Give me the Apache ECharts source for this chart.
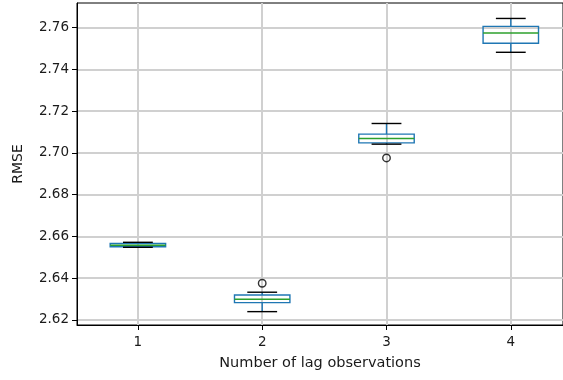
<!DOCTYPE html>
<html>
<head>
<meta charset="UTF-8">
<title>RMSE by lag</title>
<script src="https://cdn.jsdelivr.net/npm/echarts@6/dist/echarts.min.js"></script>
<style>
  html, body { margin: 0; padding: 0; background: #fff; }
  #main { width: 563px; height: 380px; }
</style>
</head>
<body>
<div id="main"></div>
<script>
// box stats per number of lag observations
var lags = [1, 2, 3, 4];
var lowWhisker  = [2.6548, 2.6240, 2.7042, 2.7482];
var q1          = [2.6551, 2.6283, 2.7048, 2.7525];
var median      = [2.6558, 2.6299, 2.7069, 2.7574];
var q3          = [2.6566, 2.6320, 2.7090, 2.7606];
var highWhisker = [2.6572, 2.6333, 2.7141, 2.7644];
var outlierLag  = [2, 3];
var outlierVal  = [2.6376, 2.6976];
var yTicks = [2.62, 2.64, 2.66, 2.68, 2.70, 2.72, 2.74, 2.76];

var boxData = lags.map(function (x, i) {
    return [x, lowWhisker[i], q1[i], median[i], q3[i], highWhisker[i]];
});
var outlierData = outlierLag.map(function (x, i) { return [x, outlierVal[i]]; });

var txt = '#1a1a1a';
var font = 'DejaVu Sans';
var gridCol = '#d0d0d0';

function renderBox(params, api) {
    var x = api.value(0);
    var half = 0.223, cap = 0.12;
    var pt = function (dx, v) { return api.coord([x + dx, v]); };
    var lo = api.value(1), b1 = api.value(2), md = api.value(3), b3 = api.value(4), hi = api.value(5);
    var tl = pt(-half, b3), br = pt(half, b1);
    var blue = {stroke: '#1f77b4', lineWidth: 1.4, fill: null};
    var black = {stroke: '#000', lineWidth: 1.4};
    return {
        type: 'group',
        children: [
            {type: 'rect', shape: {x: tl[0], y: tl[1], width: br[0] - tl[0], height: br[1] - tl[1]}, style: blue},
            {type: 'line', shape: {x1: pt(0, b3)[0], y1: pt(0, b3)[1], x2: pt(0, hi)[0], y2: pt(0, hi)[1]}, style: blue},
            {type: 'line', shape: {x1: pt(0, b1)[0], y1: pt(0, b1)[1], x2: pt(0, lo)[0], y2: pt(0, lo)[1]}, style: blue},
            {type: 'line', shape: {x1: pt(-cap, hi)[0], y1: pt(-cap, hi)[1], x2: pt(cap, hi)[0], y2: pt(cap, hi)[1]}, style: black},
            {type: 'line', shape: {x1: pt(-cap, lo)[0], y1: pt(-cap, lo)[1], x2: pt(cap, lo)[0], y2: pt(cap, lo)[1]}, style: black},
            {type: 'line', shape: {x1: pt(-half, md)[0], y1: pt(-half, md)[1], x2: pt(half, md)[0], y2: pt(half, md)[1]},
             style: {stroke: '#2ca02c', lineWidth: 1.4}}
        ]
    };
}

var chart = echarts.init(document.getElementById('main'), null, {renderer: 'canvas'});
chart.setOption({
    animation: false,
    backgroundColor: '#fff',
    // original picture is cropped on the right, so the x range stops short of 4.5
    grid: {left: 77, right: 0, top: 3, bottom: 55, show: true, borderColor: '#000', borderWidth: 1},
    xAxis: {
        type: 'value', min: 0.51, max: 4.42,
        name: 'Number of lag observations', nameLocation: 'middle', nameGap: 31,
        nameTextStyle: {color: txt, fontFamily: font, fontSize: 14.5},
        axisLine: {show: true, lineStyle: {color: '#000', width: 1}},
        axisTick: {show: true, length: 5, lineStyle: {color: '#000'}, customValues: lags},
        axisLabel: {color: txt, fontFamily: font, fontSize: 13.5, margin: 10, customValues: lags},
        splitLine: {show: true, lineStyle: {color: gridCol, width: 2}}
    },
    yAxis: {
        type: 'value', min: 2.6176, max: 2.7718,
        name: 'RMSE', nameLocation: 'middle', nameGap: 52,
        nameTextStyle: {color: txt, fontFamily: font, fontSize: 14},
        axisLine: {show: true, lineStyle: {color: '#000', width: 1}},
        axisTick: {show: true, length: 5, lineStyle: {color: '#000'}, customValues: yTicks},
        axisLabel: {color: txt, fontFamily: font, fontSize: 13.5, margin: 8, customValues: yTicks,
            formatter: function (v) { return v.toFixed(2); }},
        splitLine: {show: true, lineStyle: {color: gridCol, width: 2}}
    },
    series: [
        {type: 'custom', renderItem: renderBox, data: boxData, encode: {x: 0, y: [1, 2, 3, 4, 5]}, z: 3},
        {type: 'scatter', data: outlierData, symbol: 'circle', symbolSize: 7.5,
         itemStyle: {color: 'rgba(0,0,0,0)', borderColor: '#000', borderWidth: 1.4}, z: 4}
    ]
});
</script>
</body>
</html>
